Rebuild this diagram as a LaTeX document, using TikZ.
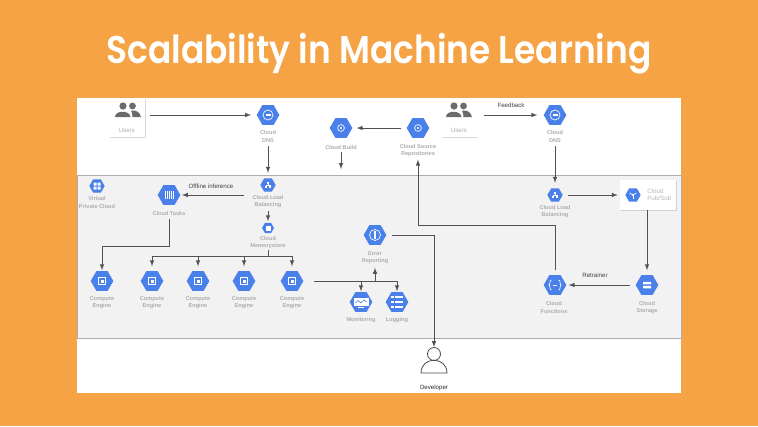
\documentclass[tikz,border=0pt]{standalone}
\usepackage{fontspec}
\setmainfont{Liberation Sans}
\newfontfamily\titlefont[BoldFont={Poppins SemiBold}]{Poppins}
\usetikzlibrary{shapes.geometric,shadows}
\definecolor{bgorange}{HTML}{F5A345}
\definecolor{gcpblue}{HTML}{4A80EA}
\tikzset{
	hexa/.style={regular polygon,regular polygon sides=6,fill=gcpblue,inner sep=0,minimum size=17pt},
	hexb/.style={hexa,minimum size=11.5pt},
	hexc/.style={hexa,minimum size=9pt},
	capt/.style={inner sep=0,align=center,text=black!32,font=\fontsize{4.2}{5.3}\selectfont\bfseries},
	note/.style={inner sep=0,text=black!75,font=\fontsize{4.6}{5.5}\selectfont},
	conn/.style={draw=black!68,line width=0.55pt,-latex},
	wire/.style={draw=black!68,line width=0.55pt},
	card/.style={draw=none,fill=white,inner sep=0,drop shadow={shadow xshift=0.7pt,shadow yshift=-0.8pt,fill=black!30}},
	glyph/.style={draw=white,line width=0.5pt,fill=none},
}
\def\usersicon(#1,#2){\begin{scope}[shift={(#1,#2)}]
	\fill[black!58] (-5,-5) circle (3.6);
	\fill[black!58] (4.5,-5) circle (3.4);
	\fill[black!58] (-13,6) .. controls (-13,-1) and (2,-1) .. (2.5,6) -- cycle;
	\fill[black!58] (3,-0.5) .. controls (8,-1) and (12,1) .. (13,6) -- (4.5,6) .. controls (4.5,4) and (4,1) .. (3,-0.5) -- cycle;
\end{scope}}
\def\chipglyph(#1,#2){\draw[glyph] (#1-3.5,#2-3.5) rectangle (#1+3.5,#2+3.5);\fill[white] (#1-1.5,#2-1.5) rectangle (#1+1.5,#2+1.5);}
\def\dnsglyph(#1,#2){\draw[glyph] (#1,#2) circle (5);\fill[white] (#1-2.5,#2-1) rectangle (#1+2.5,#2+1);}
\def\treeglyph(#1,#2){\fill[white] (#1-1,#2-3) rectangle (#1+1,#2-1);\fill[white] (#1-3.2,#2+0.8) rectangle (#1-1.2,#2+2.8);\fill[white] (#1+1.2,#2+0.8) rectangle (#1+3.2,#2+2.8);\draw[glyph,line width=0.3pt] (#1-2.2,#2+1) -- (#1-2.2,#2) -- (#1+2.2,#2) -- (#1+2.2,#2+1) (#1,#2-1) -- (#1,#2);}
\def\ringglyph(#1,#2){\draw[glyph] (#1,#2) circle (3.4);\fill[white] (#1,#2) circle (1.2);}

\begin{document}
\begin{tikzpicture}[x=0.75pt,y=-0.75pt]
	\useasboundingbox (0,0) rectangle (758,426);
	%%%%% BACKGROUND %%%%%
	\fill[bgorange] (0,0) rectangle (758,426);
	\node (title) at (379,63) [anchor=base,inner sep=0,text=white,font=\titlefont\fontsize{29}{34}\selectfont\bfseries] {\scalebox{0.89}[1]{Scalability in Machine Learning}};
	\fill[white] (77,98) rectangle (681,393);
	\draw[fill=black!5,draw=black!32,line width=0.5pt] (77,175) rectangle (681,338);

	%%%%% USERS %%%%%
	\node[card,minimum width=27pt,minimum height=29.25pt] (usersa) at (127,117.5) {};
	\node[card,minimum width=27pt,minimum height=29.25pt] (usersb) at (459.5,117.5) {};
	\usersicon(128,111)
	\usersicon(459,111)
	\node[capt,font=\fontsize{4.6}{5.3}\selectfont,text=black!32] (capusersa) at (127,130) {Users};
	\node[capt,font=\fontsize{4.6}{5.3}\selectfont,text=black!32] (capusersb) at (459,130) {Users};

	%%%%% HEXAGONS %%%%%
	\node[hexa] (dnsa) at (268,115) {};
	\node[hexa] (dnsb) at (555,115) {};
	\node[hexa] (build) at (341,128) {};
	\node[hexa] (source) at (418,128) {};
	\node[hexb] (vpc) at (97,186) {};
	\node[hexa] (tasks) at (169,195) {};
	\node[hexb] (lba) at (268,185) {};
	\node[hexc] (memory) at (268,228) {};
	\node[hexa] (error) at (375,235) {};
	\node[hexb] (lbb) at (555,195) {};
	\node[hexa] (compa) at (102,281) {};
	\node[hexa] (compb) at (152,281) {};
	\node[hexa] (compc) at (198,281) {};
	\node[hexa] (compd) at (244,281) {};
	\node[hexa] (compe) at (292,281) {};
	\node[hexa] (monitor) at (361,302) {};
	\node[hexa] (logs) at (397,302) {};
	\node[hexa] (funcs) at (555,285) {};
	\node[hexa] (store) at (647,285) {};

	%%%%% GLYPHS %%%%%
	\dnsglyph(268,115)
	\dnsglyph(555,115)
	\ringglyph(341,128)
	\ringglyph(418,128)
	\treeglyph(268,185)
	\treeglyph(555,195)
	\fill[white] (93.5,182.5) rectangle (96.5,185.5) (97.5,182.5) rectangle (100.5,185.5) (93.5,186.5) rectangle (96.5,189.5) (97.5,186.5) rectangle (100.5,189.5);
	\foreach \k in {-4,-2,0,2,4} \draw[white,line width=0.6pt] (169+\k,191) -- (169+\k,199);
	\fill[white] (265.5,225.5) rectangle (270.5,230.5);
	\draw[glyph] (375,235) circle (5.5);
	\draw[white,line width=0.8pt] (375,231) -- (375,239);
	\foreach \k in {102,152,198,244,292} {\chipglyph(\k,281)}
	\draw[glyph,fill=white] (354,298) rectangle (368,305);
	\draw[gcpblue,line width=0.5pt] (355.5,303) -- (358,300.5) -- (361,303) -- (364,300) -- (366.5,302);
	\fill[white] (358,306.5) rectangle (364,307.5);
	\foreach \k in {297,302,307} {\fill[white] (391,\k-1.2) rectangle (393.5,\k+1.2); \fill[white] (395,\k-0.8) rectangle (403,\k+0.8);}
	\draw[glyph] (551.5,280) .. controls (549,280) and (550.5,285) .. (549,285) .. controls (550.5,285) and (549,290) .. (551.5,290);
	\draw[glyph] (558.5,280) .. controls (561,280) and (559.5,285) .. (561,285) .. controls (559.5,285) and (561,290) .. (558.5,290);
	\draw[white,line width=0.5pt] (553,285) -- (557,285);
	\fill[white] (643,281.8) rectangle (651,284.3) (643,285.8) rectangle (651,288.3);

	%%%%% CAPTIONS %%%%%
	\node[capt] (capdnsa) at (268,136.5) {Cloud\\DNS};
	\node[capt] (capdnsb) at (555,136.5) {Cloud\\DNS};
	\node[capt] (capbuild) at (341,147) {Cloud Build};
	\node[capt] (capsource) at (418,150.5) {Cloud Source\\Repositories};
	\node[capt] (capvpc) at (97,202.5) {Virtual\\Private Cloud};
	\node[capt] (captasks) at (169,213) {Cloud Tasks};
	\node[capt] (caplba) at (268,201.5) {Cloud Load\\Balancing};
	\node[capt] (capmemory) at (268,242.5) {Cloud\\Memorystore};
	\node[capt] (caperror) at (375,257.5) {Error\\Reporting};
	\node[capt] (caplbb) at (555,211.5) {Cloud Load\\Balancing};
	\node[capt] (capcompa) at (102,302.5) {Compute\\Engine};
	\node[capt] (capcompb) at (152,302.5) {Compute\\Engine};
	\node[capt] (capcompc) at (198,302.5) {Compute\\Engine};
	\node[capt] (capcompd) at (244,302.5) {Compute\\Engine};
	\node[capt] (capcompe) at (292,302.5) {Compute\\Engine};
	\node[capt] (capmonitor) at (361,320) {Monitoring};
	\node[capt] (caplogs) at (397,320) {Logging};
	\node[capt] (capfuncs) at (554,307.5) {Cloud\\Functions};
	\node[capt] (capstore) at (647,307.5) {Cloud\\Storage};

	%%%%% PUB/SUB %%%%%
	\node[card,minimum width=42pt,minimum height=22.5pt] (pubbox) at (648,195) {};
	\node[hexb] (pubsub) at (633,195) {};
	\foreach \k in {90,210,330} \draw[white,line width=0.5pt] (633,195) -- ++(\k:4);
	\fill[white] (633,195) circle (1.3);
	\node[capt,text=black!28,align=left,anchor=west,font=\fontsize{4.7}{5.3}\selectfont] (cappubsub) at (647,194.5) {Cloud\\Pub/Sub};

	%%%%% DEVELOPER %%%%%
	\node[circle,draw=black!70,line width=0.6pt,fill=white,inner sep=0,minimum size=9.75pt] (devhead) at (434,354) {};
	\draw[draw=black!70,line width=0.6pt] (421,373) .. controls (421,356) and (447,356) .. (447,373) -- cycle;
	\node[note,text=black!85] (capdev) at (434,388) {Developer};

	%%%%% NOTES %%%%%
	\node[note] (notefeed) at (511,105) {Feedback};
	\node[note] (noteoff) at (211,186) {Offline inference};
	\node[note] (noteret) at (595,275) {Retrainer};

	%%%%% CONNECTORS %%%%%
	\draw[conn,shorten <=3.5pt,shorten >=4pt] (usersa.east |- dnsa.west) -- (dnsa.west);
	\draw[conn,shorten <=4.5pt,shorten >=4.5pt] (usersb.east |- dnsb.west) -- (dnsb.west);
	\draw[conn,shorten <=3pt,shorten >=4pt] (capdnsa.south) -- (lba.north);
	\draw[conn,shorten <=3pt,shorten >=4pt] (capdnsb.south) -- (lbb.north);
	\draw[conn,shorten <=4pt,shorten >=3pt] (source.west) -- (build.east);
	\coordinate (buildend) at (341,169);
	\draw[conn,shorten <=2pt] (capbuild.south) -- (buildend);
	\draw[conn,shorten <=12pt,shorten >=1pt] (lba.west |- tasks.east) -- (tasks.east);
	\draw[conn,shorten <=2.5pt,shorten >=1pt] (caplba.south) -- (memory.north);
	\coordinate (bendtasks) at (169,246);
	\draw[conn,shorten <=3pt,shorten >=0.5pt] (captasks.south) -- (bendtasks) -| (compa.north);
	\coordinate (busmem) at (268,256);
	\draw[wire,shorten <=1pt] (capmemory.south) -- (busmem);
	\foreach \k in {compb,compc,compd,compe} \draw[conn,shorten >=3.5pt] (busmem) -| (\k.north);
	\draw[conn,shorten <=8pt,shorten >=0.5pt] (compe.east) -| (logs.north);
	\coordinate (busmon) at (375,281);
	\draw[conn,shorten >=3pt] (busmon) -- (caperror.south);
	\draw[conn,shorten >=0.5pt] (busmon) -| (monitor.north);
	\draw[conn,shorten <=4pt] (error.east) -| (devhead.north);
	\coordinate (bendfuncs) at (418,225);
	\draw[conn,shorten <=3.5pt,shorten >=2pt] (funcs.north) |- (bendfuncs) -- (capsource.south);
	\draw[conn,shorten <=4pt,shorten >=1.5pt] (store.west) -- (funcs.east);
	\draw[conn,shorten <=4pt,shorten >=1.5pt] (lbb.east) -- (pubbox.west);
	\coordinate (pubout) at (647,210);
	\draw[conn,shorten >=3.5pt] (pubout) -- (store.north);
\end{tikzpicture}
\end{document}
